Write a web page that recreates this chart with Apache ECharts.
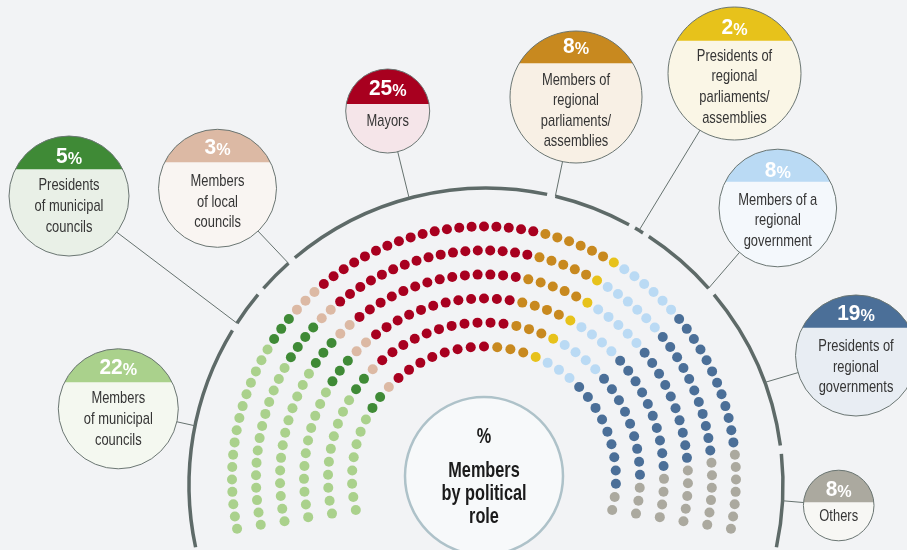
<!DOCTYPE html>
<html><head><meta charset="utf-8">
<script src="https://cdn.jsdelivr.net/npm/echarts@6/dist/echarts.min.js"></script>
<style>html,body{margin:0;padding:0;background:#f2f3f5}#c{width:907px;height:550px}</style>
</head><body><div id="c"></div>
<script>
// ---------- DATA ----------
const categories = ['Members of municipal councils','Presidents of municipal councils','Members of local councils','Mayors',
  'Members of regional parliaments/assemblies','Presidents of regional parliaments/assemblies','Members of a regional government',
  'Presidents of regional governments','Others'];
const percentages = [22, 5, 3, 25, 8, 2, 8, 19, 8];
// seats (dots) per category, one array per row, outermost first
const row1 = [16, 3, 3, 19, 6, 1, 6, 12, 7];
const row2 = [14, 4, 2, 17, 5, 1, 6, 11, 6];
const row3 = [13, 3, 2, 14, 5, 1, 5, 10, 5];
const row4 = [11, 3, 2, 12, 4, 1, 4, 10, 4];
const row5 = [10, 2, 1, 11, 3, 1, 4, 9, 3];
const row6 = [ 8, 2, 1,  8, 3, 1, 3, 9, 2];
const bubbleLabels = [['Members','of municipal','councils'],['Presidents','of municipal','councils'],['Members','of local','councils'],
  ['Mayors'],['Members of','regional','parliaments/','assemblies'],['Presidents of','regional','parliaments/','assemblies'],
  ['Members of a','regional','government'],['Presidents of','regional','governments'],['Others']];
const centerTitle = ['%','Members','by political','role'];

// ---------- STYLE / LAYOUT ----------
const rows = [row1,row2,row3,row4,row5,row6];
const colors = ['#aad18c','#3f8a36','#dcb9a4','#a8001f','#c8891f','#e7c21b','#badaf4','#4b6f98','#aba99f'];
const tints  = ['#f4f8f0','#e9f0e7','#f9f5f2','#f5e5e9','#f8f0e5','#faf6e6','#f4f8fc','#e8edf3','#f7f7f4'];
const rowRadius = [252, 228, 204, 180, 156, 132];
const rowEnd = [11.5, 11.7, 12.1, 12.4, 13.0, 13.8];
const CX = 484, CY = 478.5;          // dots centre
const BX = 486, BY = 485, BR = 297;  // bracket arc centre/radius
const bubbles = [
  {cx:118.3, cy:408.8, r:60,   band:382.3, pct:368.3, y0:398.3, lh:21,   att:168.5},
  {cx:69,    cy:196,   r:60,   band:169.3, pct:156.7, y0:185,   lh:21,   att:'start'},
  {cx:217.5, cy:188.3, r:59,   band:162.3, pct:148,   y0:181.7, lh:20.5, att:'end'},
  {cx:387.7, cy:111,   r:42,   band:104,   pct:89,    y0:121.7, lh:21,   att:105},
  {cx:576,   cy:97,    r:66,   band:63.3,  pct:47,    y0:80,    lh:20.6, att:'start'},
  {cx:734.5, cy:73.5,  r:66.5, band:40.7,  pct:28.3,  y0:56,    lh:20.8, att:'mid'},
  {cx:777.8, cy:208,   r:58.8, band:181.7, pct:170.7, y0:200,   lh:20.8, att:'end'},
  {cx:856,   cy:355.5, r:60.5, band:327.7, pct:314,   y0:346.7, lh:20.3, att:20.2},
  {cx:838.7, cy:505.5, r:35.3, band:502.3, pct:490,   y0:516.7, lh:20,   att:'mid'}
];
const FONT = '"Liberation Sans",Arial,sans-serif';

// ---------- DOTS ----------
const series = categories.map((name, c) => ({
  name, type:'scatter', coordinateSystem:'polar', symbol:'circle', symbolSize:10,
  itemStyle:{color:colors[c], opacity:1}, silent:true, animation:false, data:[]
}));
const outerRange = [];
rows.forEach((row, k) => {
  const n = row.reduce((a,b)=>a+b,0);
  const e = rowEnd[k];
  const step = (180 + 2*e) / (n - 1);
  let idx = 0;
  row.forEach((cnt, c) => {
    for (let j = 0; j < cnt; j++) {
      series[c].data.push([rowRadius[k], 180 + e - (idx + j) * step]);
    }
    if (k === 0) outerRange[c] = [180 + e - idx*step, 180 + e - (idx+cnt-1)*step];
    idx += cnt;
  });
});

// ---------- GRAPHICS ----------
const g = [];
const rad = d => d*Math.PI/180;
const arcPt = d => [BX + BR*Math.cos(rad(d)), BY - BR*Math.sin(rad(d))];
function txt(t, x, y, font, fill, sx, z) {
  return {type:'text', z:z||5, silent:true, x:x, y:y, scaleX:sx, scaleY:1,
    style:{text:t, x:0, y:0, font:font, fill:fill, align:'center', verticalAlign:'middle', textAlign:'center', textVerticalAlign:'middle'}};
}
outerRange.forEach((rg, c) => {
  let a = rg[0] + 0.6, b = rg[1] - 0.6;
  if (rg[0] === rg[1]) { a = rg[0] + 0.9; b = rg[0] - 0.9; }
  g.push({type:'arc', z:1, silent:true, shape:{cx:BX, cy:BY, r:BR, startAngle:-rad(a), endAngle:-rad(b), clockwise:true},
    style:{stroke:'#5e6a68', lineWidth:3.5, fill:null}});
  const bb = bubbles[c];
  let at = bb.att;
  if (at === 'start') at = a; else if (at === 'end') at = b; else if (at === 'mid') at = (a+b)/2;
  const p = arcPt(at);
  g.push({type:'line', z:1, silent:true, shape:{x1:p[0], y1:p[1], x2:bb.cx, y2:bb.cy}, style:{stroke:'#66726f', lineWidth:1}});
});
bubbles.forEach((bb, c) => {
  g.push({type:'circle', z:2, silent:true, shape:{cx:bb.cx, cy:bb.cy, r:bb.r}, style:{fill:tints[c]}});
  const d = bb.cy - bb.band, t0 = Math.asin(Math.max(-1, Math.min(1, d/bb.r)));
  const pts = [];
  for (let i = 0; i <= 60; i++) { const t = t0 + (Math.PI - 2*t0)*i/60; pts.push([bb.cx + bb.r*Math.cos(t), bb.cy - bb.r*Math.sin(t)]); }
  g.push({type:'polygon', z:3, silent:true, shape:{points:pts}, style:{fill:colors[c]}});
  g.push({type:'circle', z:4, silent:true, shape:{cx:bb.cx, cy:bb.cy, r:bb.r}, style:{fill:null, stroke:'#6b7673', lineWidth:1}});
  const pt = txt('{n|'+percentages[c]+'}{p|%}', bb.cx, bb.pct, null, '#fff', 0.95);
  pt.style.rich = {n:{font:'bold 22px '+FONT, fill:'#ffffff', verticalAlign:'bottom', lineHeight:22},
                   p:{font:'bold 17px '+FONT, fill:'#ffffff', verticalAlign:'bottom', lineHeight:22}};
  g.push(pt);
  bubbleLabels[c].forEach((ln, i) => g.push(txt(ln, bb.cx, bb.y0 + i*bb.lh, '17px '+FONT, '#353535', 0.76)));
});
g.push({type:'circle', z:2, silent:true, shape:{cx:484, cy:476, r:79}, style:{fill:'#f7f9fa', stroke:'#aec2c9', lineWidth:2.5}});
const ctY = [437, 470.7, 494, 516.7];
centerTitle.forEach((t, i) => g.push(txt(t, 484, ctY[i], 'bold 22px '+FONT, '#1b1b1b', 0.74)));

const chart = echarts.init(document.getElementById('c'), null, {renderer:'canvas'});
chart.setOption({
  animation:false,
  backgroundColor:'#f2f3f5',
  polar:{center:[CX, CY], radius:260},
  radiusAxis:{type:'value', min:0, max:260, show:false},
  angleAxis:{type:'value', min:-90, max:270, startAngle:270, clockwise:false, show:false},
  series,
  graphic:{elements:g}
});
</script></body></html>
